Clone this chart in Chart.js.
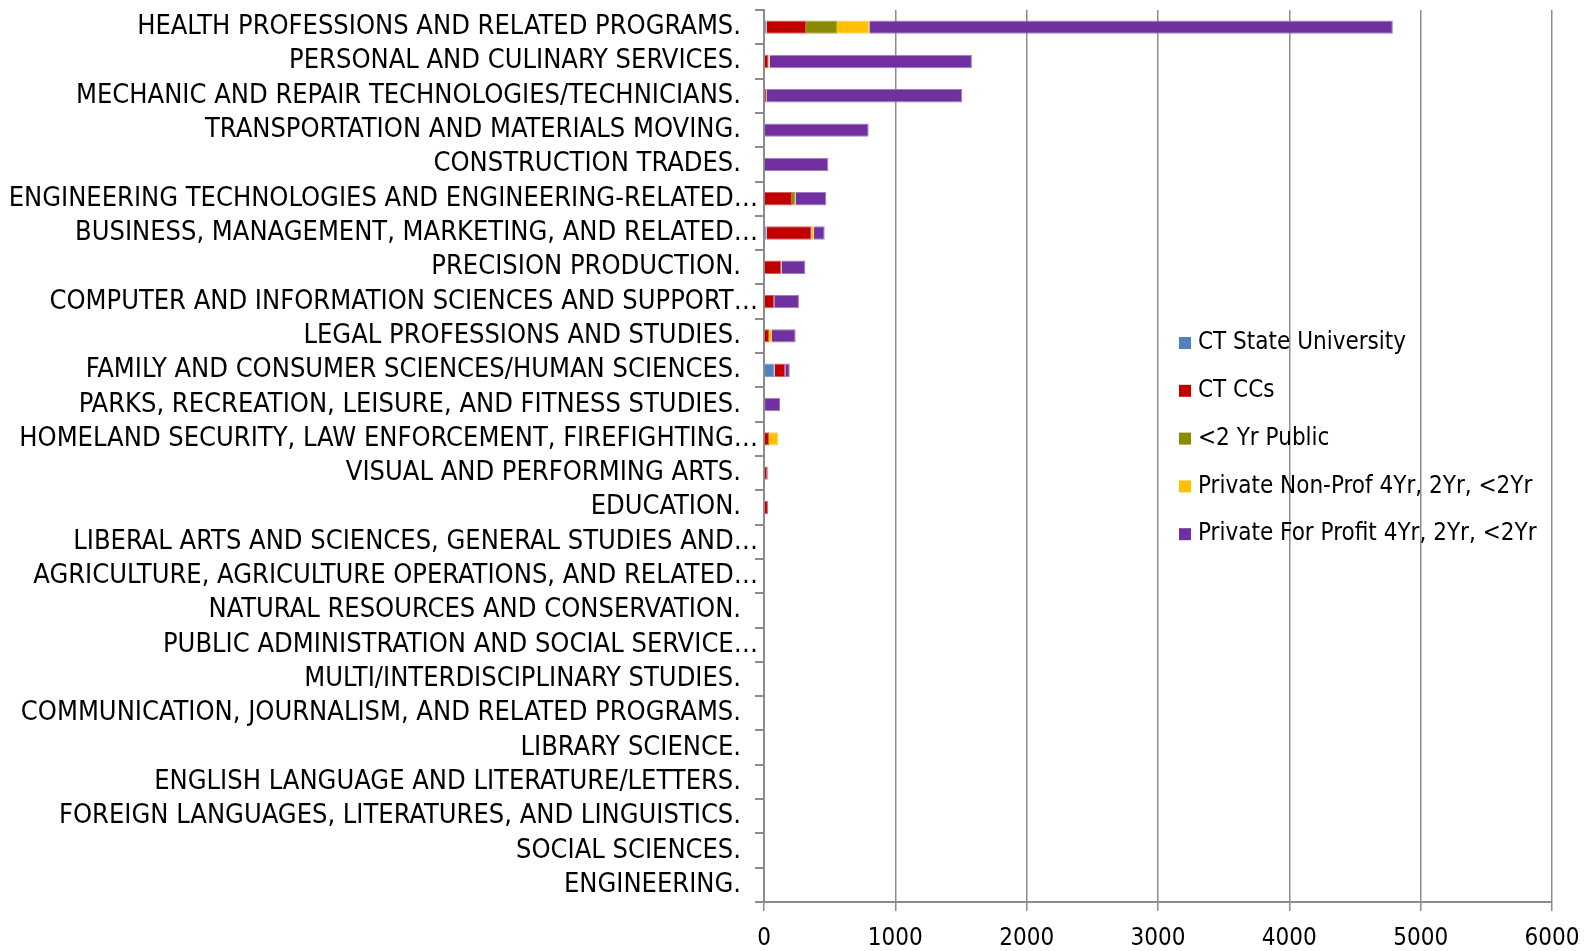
<!DOCTYPE html>
<html>
<head>
<meta charset="utf-8">
<script src="https://cdn.jsdelivr.net/npm/chart.js@4/dist/chart.umd.min.js"></script>
<style>
  html, body { margin: 0; padding: 0; background: #fff; }
  #chart { display: block; }
</style>
</head>
<body>
<canvas id="chart" width="1594" height="951"></canvas>
<script>
// Data (graduates by program, stacked by sector)
const categories = [
  "HEALTH PROFESSIONS AND RELATED PROGRAMS.",
  "PERSONAL AND CULINARY SERVICES.",
  "MECHANIC AND REPAIR TECHNOLOGIES/TECHNICIANS.",
  "TRANSPORTATION AND MATERIALS MOVING.",
  "CONSTRUCTION TRADES.",
  "ENGINEERING TECHNOLOGIES AND ENGINEERING-RELATED…",
  "BUSINESS, MANAGEMENT, MARKETING, AND RELATED…",
  "PRECISION PRODUCTION.",
  "COMPUTER AND INFORMATION SCIENCES AND SUPPORT…",
  "LEGAL PROFESSIONS AND STUDIES.",
  "FAMILY AND CONSUMER SCIENCES/HUMAN SCIENCES.",
  "PARKS, RECREATION, LEISURE, AND FITNESS STUDIES.",
  "HOMELAND SECURITY, LAW ENFORCEMENT, FIREFIGHTING…",
  "VISUAL AND PERFORMING ARTS.",
  "EDUCATION.",
  "LIBERAL ARTS AND SCIENCES, GENERAL STUDIES AND…",
  "AGRICULTURE, AGRICULTURE OPERATIONS, AND RELATED…",
  "NATURAL RESOURCES AND CONSERVATION.",
  "PUBLIC ADMINISTRATION AND SOCIAL SERVICE…",
  "MULTI/INTERDISCIPLINARY STUDIES.",
  "COMMUNICATION, JOURNALISM, AND RELATED PROGRAMS.",
  "LIBRARY SCIENCE.",
  "ENGLISH LANGUAGE AND LITERATURE/LETTERS.",
  "FOREIGN LANGUAGES, LITERATURES, AND LINGUISTICS.",
  "SOCIAL SCIENCES.",
  "ENGINEERING."
];

const ctStateUniv = [20, 0, 0, 0, 0, 0, 20, 0, 0, 0, 81, 0, 0, 0, 0, 0, 0, 0, 0, 0, 0, 0, 0, 0, 0, 0];
const ctCCs       = [300, 35, 20, 0, 0, 213, 343, 130, 78, 38, 81, 8, 38, 25, 30, 5, 0, 0, 0, 0, 0, 0, 0, 0, 0, 0];
const under2Pub   = [236, 0, 0, 0, 0, 28, 0, 0, 0, 0, 0, 0, 0, 0, 0, 0, 0, 0, 0, 0, 0, 0, 0, 0, 0, 0];
const privNonProf = [246, 8, 0, 0, 0, 0, 18, 3, 0, 23, 0, 0, 69, 0, 3, 0, 0, 0, 0, 0, 0, 0, 0, 0, 0, 0];
const privProfit  = [3986, 1540, 1490, 797, 490, 234, 81, 182, 188, 180, 34, 114, 0, 8, 0, 0, 5, 0, 0, 0, 0, 0, 0, 0, 0, 0];

const xTicks = [0, 1000, 2000, 3000, 4000, 5000, 6000];

const FONT = "'DejaVu Sans Condensed', 'DejaVu Sans', sans-serif";
const AXIS_GRAY = "#8c8c8c";

function series(label, data, color, border) {
  return {
    label,
    data,
    backgroundColor: color,
    borderColor: border,
    borderWidth: 1,
    categoryPercentage: 1,
    barPercentage: 0.39,
  };
}

// legend drawn inside the plot, like the original
const insideLegend = {
  id: "insideLegend",
  afterDraw(chart) {
    const ctx = chart.ctx;
    ctx.save();
    ctx.font = "24px " + FONT;
    ctx.textBaseline = "middle";
    chart.data.datasets.forEach((ds, i) => {
      const y = 343 + i * 47.8;
      ctx.fillStyle = ds.backgroundColor;
      ctx.fillRect(1179, y - 6, 12, 12);
      ctx.fillStyle = "#000";
      ctx.fillText(ds.label, 1198, y);
    });
    ctx.restore();
  },
};

new Chart(document.getElementById("chart"), {
  type: "bar",
  data: {
    labels: categories,
    datasets: [
      series("CT State University", ctStateUniv, "#4F81BD", "#7fa3d0"),
      series("CT CCs", ctCCs, "#C00000", "#d85a5a"),
      series("<2 Yr Public", under2Pub, "#8B8B00", "#a8a84a"),
      series("Private Non-Prof 4Yr, 2Yr, <2Yr", privNonProf, "#FFC000", "#ffd45c"),
      series("Private For Profit 4Yr, 2Yr, <2Yr", privProfit, "#7030A0", "#a07cc4"),
    ],
  },
  options: {
    indexAxis: "y",
    responsive: false,
    animation: false,
    layout: { padding: { top: 10, right: 42, left: 0, bottom: 0 } },
    plugins: {
      legend: { display: false },
      tooltip: { enabled: false },
    },
    scales: {
      x: {
        stacked: true,
        min: 0,
        max: 6000,
        afterBuildTicks: (scale) => {
          scale.ticks = xTicks.map((v) => ({ value: v }));
        },
        afterFit: (scale) => {
          scale.height = 49;
        },
        grid: {
          color: AXIS_GRAY,
          lineWidth: 1.5,
          tickLength: 9,
        },
        border: { color: AXIS_GRAY, width: 2 },
        ticks: {
          color: "#000",
          font: { family: FONT, size: 24 },
          padding: 13,
          maxRotation: 0,
          callback: (value) => String(value),
        },
      },
      y: {
        stacked: true,
        afterFit: (scale) => {
          scale.width = 764;
        },
        grid: {
          offset: true,
          drawOnChartArea: false,
          color: AXIS_GRAY,
          lineWidth: 2,
          tickLength: 9,
        },
        border: { color: AXIS_GRAY, width: 2 },
        ticks: {
          color: "#000",
          font: { family: FONT, size: 27, lineHeight: 0.5 },
          autoSkip: false,
          padding: -3,
          // full labels sit a little further from the axis than the cut ones
          callback: function (value) {
            const s = this.getLabelForValue(value);
            return s.endsWith("…") ? s : s + "\u2002\u2009";
          },
        },
      },
    },
  },
  plugins: [insideLegend],
});
</script>
</body>
</html>
